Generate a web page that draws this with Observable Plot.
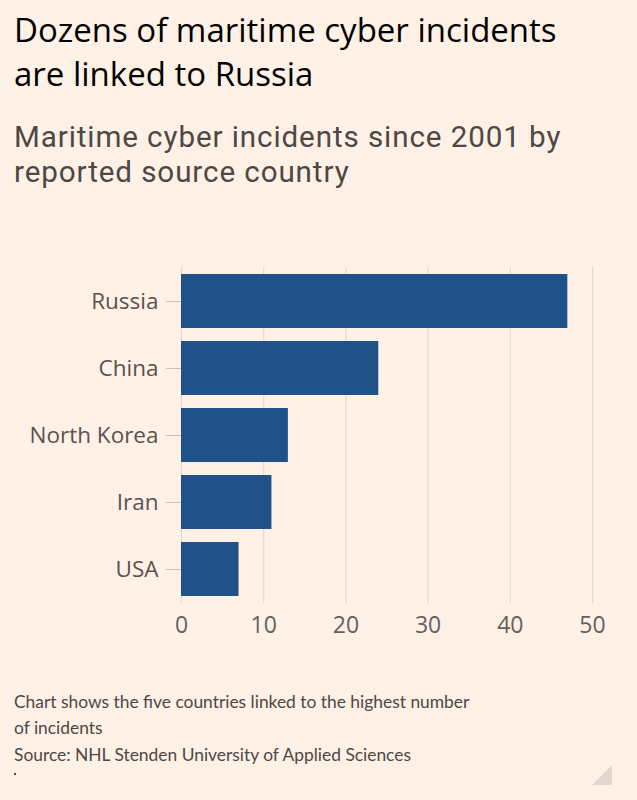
<!DOCTYPE html>
<html>
<head>
<meta charset="utf-8">
<script src="https://cdn.jsdelivr.net/npm/d3@7"></script>
<script src="https://cdn.jsdelivr.net/npm/@observablehq/plot@0.6"></script>
<style>
  html, body { margin: 0; padding: 0; background: #FFF1E5; }
  body { width: 637px; height: 800px; position: relative; overflow: hidden; font-family: "Open Sans", Lato, sans-serif; }
  .t { position: absolute; left: 14px; font-size: 33px; line-height: 44px; height: 44px; color: #000; white-space: nowrap; }
  .s { position: absolute; left: 14px; font-family: Roboto, "Open Sans", sans-serif; font-size: 29.6px; letter-spacing: 0.9px; line-height: 35px; height: 35px; color: #4d4845; white-space: nowrap; }
  #chart { position: absolute; left: 0; top: 240px; }
  .note { position: absolute; left: 14px; font-family: Lato, sans-serif; font-size: 17.4px; line-height: 26px; height: 26px; color: #4d4845; white-space: nowrap; }
  #dot { position: absolute; left: 14px; top: 773px; width: 2px; height: 2px; background: #4d4845; }
  #corner { position: absolute; left: 592px; top: 765px; width: 0; height: 0; border-left: 20px solid transparent; border-bottom: 20px solid #e0d7cf; }
</style>
</head>
<body>
<div class="t" style="top:8px">Dozens of maritime cyber incidents</div>
<div class="t" style="top:52px">are linked to Russia</div>
<div class="s" style="top:120px">Maritime cyber incidents since 2001 by</div>
<div class="s" style="top:155px">reported source country</div>
<div id="chart"></div>
<div class="note" style="top:689px">Chart shows the five countries linked to the highest number</div>
<div class="note" style="top:715px">of incidents</div>
<div class="note" style="top:742px">Source: NHL Stenden University of Applied Sciences</div>
<div id="dot"></div>
<div id="corner"></div>
<script>
const countries = ["Russia", "China", "North Korea", "Iran", "USA"];
const incidents = [47, 24, 13, 11, 7];
const xTicks = [0, 10, 20, 30, 40, 50];

const data = countries.map((c, i) => ({country: c, value: incidents[i]}));

const plot = Plot.plot({
  width: 637,
  height: 410,
  marginLeft: 181,
  marginRight: 45,
  marginTop: 27,
  marginBottom: 47,
  style: {background: "transparent", fontFamily: "'Open Sans', Lato, sans-serif", color: "#66605c"},
  x: {domain: [0, 50], ticks: xTicks, label: null},
  y: {domain: countries, label: null, paddingInner: 0.2, paddingOuter: 0.1},
  marks: [
    Plot.gridX(xTicks, {stroke: "#e0d7cf", strokeOpacity: 1, strokeWidth: 1.2}),
    Plot.barX(data, {x: "value", y: "country", fill: "#1f5289"}),
    Plot.axisX(xTicks, {tickSize: 0, tickPadding: 13, fontSize: 23, fill: "#66605c", label: null}),
    Plot.axisY({tickSize: 15, tickPadding: 8, fontSize: 22.5, fill: "#59534f", stroke: "#c9c0b8", label: null})
  ]
});
document.getElementById("chart").appendChild(plot);
</script>
</body>
</html>
